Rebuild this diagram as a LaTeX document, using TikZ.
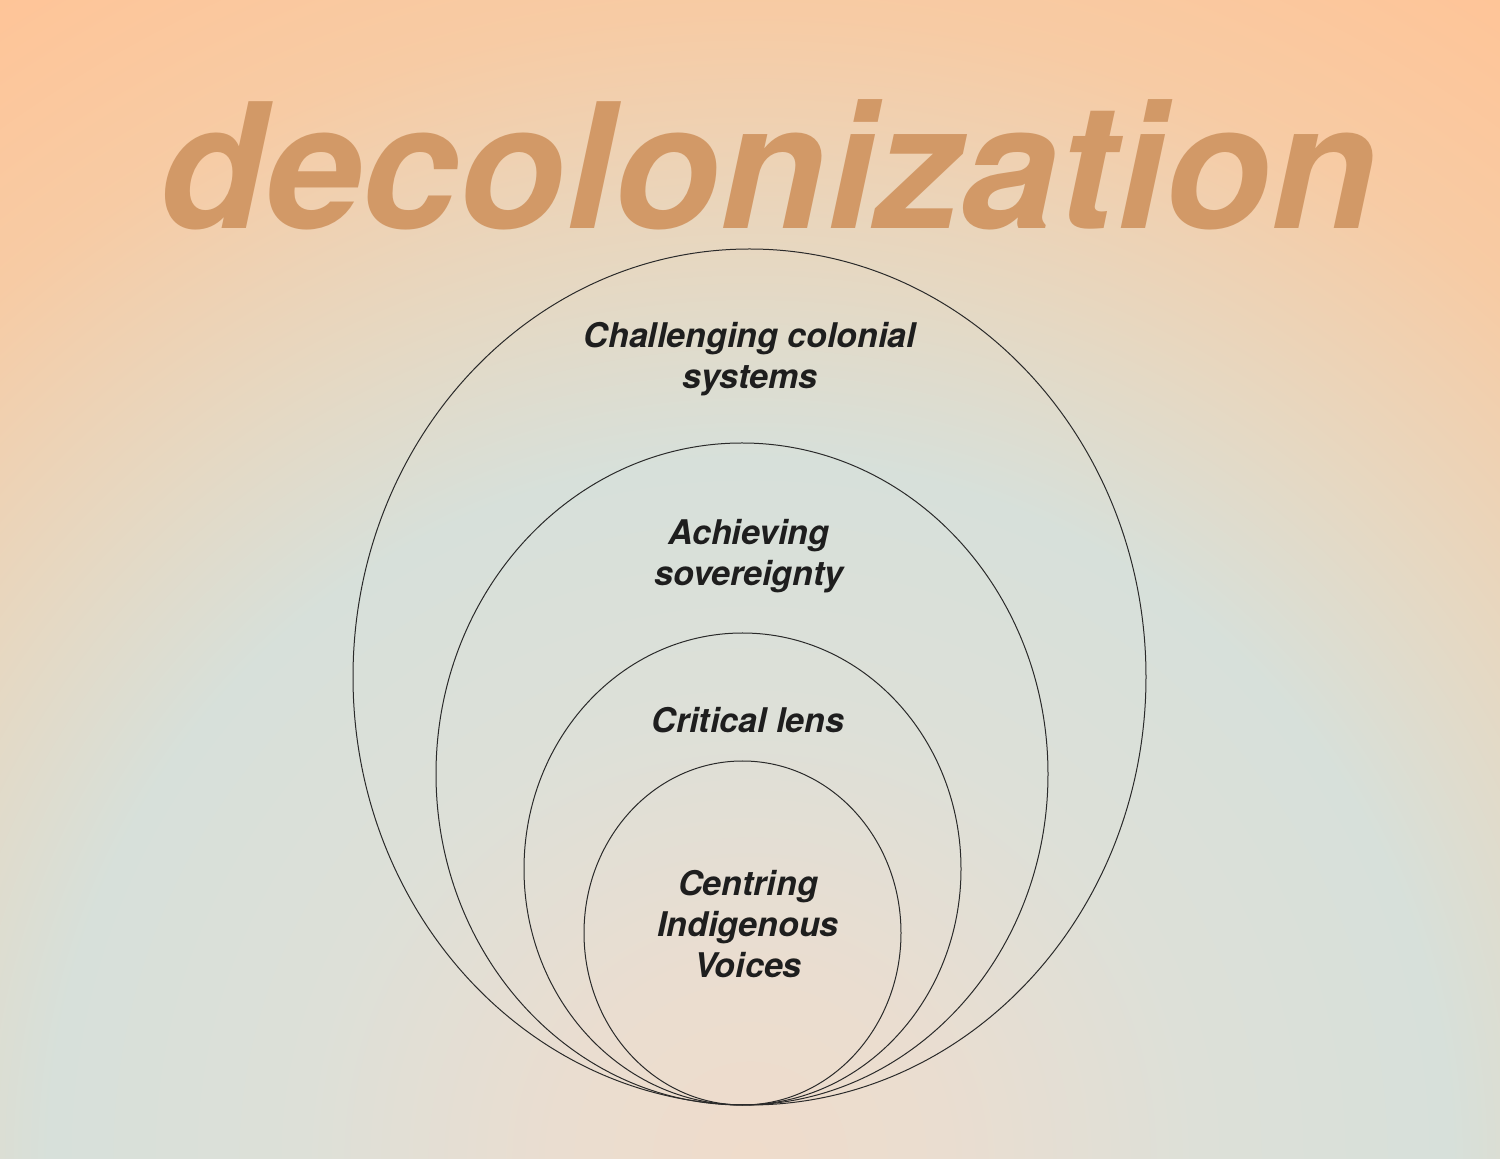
\documentclass[tikz,border=0pt]{standalone}
\usepackage{fontspec}
\setmainfont{TeX Gyre Heros}
\definecolor{bgA}{HTML}{EFDCCB}
\definecolor{bgB}{HTML}{EADDD0}
\definecolor{bgC}{HTML}{DDE0D8}
\definecolor{bgD}{HTML}{D7E0DA}
\definecolor{bgE}{HTML}{E6D8C2}
\definecolor{bgF}{HTML}{F7CBA4}
\definecolor{bgG}{HTML}{FFC497}
\definecolor{titlecol}{HTML}{D29967}
\definecolor{inkcol}{HTML}{1E1E1E}
\definecolor{linecol}{HTML}{2A2A2A}
\pgfdeclareradialshading{bgshade}{\pgfpoint{0bp}{0bp}}{%
  color(0bp)=(bgA); color(3.5bp)=(bgB); color(8bp)=(bgC); color(12.5bp)=(bgD);
  color(16bp)=(bgE); color(20.5bp)=(bgF); color(25bp)=(bgG); color(50bp)=(bgG)}
\begin{document}
\begin{tikzpicture}[x=0.5pt,y=-0.5pt,
  ring/.style={draw=linecol,line width=0.5pt},
  label/.style={font=\fontsize{17}{20.5}\selectfont\bfseries\itshape,text=inkcol,align=center,inner sep=0pt},
  titletext/.style={font=\fontsize{87}{100}\selectfont\bfseries\itshape,text=titlecol,inner sep=0pt}]
\useasboundingbox (0,0) rectangle (1500,1159);
\begin{scope}
  \clip (0,0) rectangle (1500,1159);
  \shade[shading=bgshade] (-650,-241) rectangle (2150,2559);
\end{scope}
\node[titletext,anchor=base] (title) at (768,229) {decolonization};
\draw[ring] (749.5,677) ellipse [x radius=396.5, y radius=428];
\draw[ring] (742,774) ellipse [x radius=306, y radius=331];
\draw[ring] (742.5,869) ellipse [x radius=218.5, y radius=236];
\draw[ring] (742.5,933) ellipse [x radius=158.5, y radius=172];
\node[label] (l1) at (750,359) {Challenging colonial\\systems};
\node[label] (l2) at (749,556) {Achieving\\sovereignty};
\node[label] (l3) at (748,720) {Critical lens};
\node[label] (l4) at (748,924) {Centring\\Indigenous\\Voices};
\end{tikzpicture}
\end{document}
